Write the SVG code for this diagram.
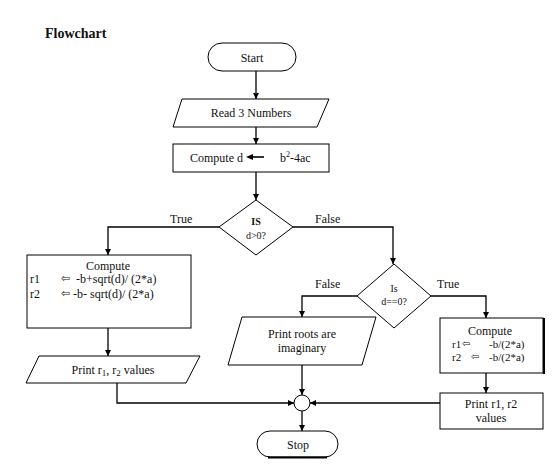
<svg xmlns="http://www.w3.org/2000/svg" width="556" height="469" viewBox="0 0 556 469" font-family="'Liberation Serif','Times New Roman',serif">
<defs>
<marker id="ah" markerWidth="8" markerHeight="8" refX="6" refY="3" orient="auto" markerUnits="userSpaceOnUse">
<path d="M0,0 L6,3 L0,6 Z" fill="#000"/>
</marker>
<style>
text{font-family:"Liberation Serif","Times New Roman",serif;font-size:12px;fill:#111}
.c{text-anchor:middle}
.s{fill:#fff;stroke:#000;stroke-width:1}
.ln{fill:none;stroke:#000;stroke-width:1.3}
.ar{font-family:"DejaVu Sans",sans-serif;font-size:11px}
</style>
</defs>
<rect width="556" height="469" fill="#fff"/>
<text x="45" y="38" style="font-weight:bold;font-size:14px">Flowchart</text>

<g id="connectors">
<path class="ln" d="M256,71 V99" marker-end="url(#ah)"/>
<path class="ln" d="M256,127 V144" marker-end="url(#ah)"/>
<path class="ln" d="M256,172 V200" marker-end="url(#ah)"/>
<path class="ln" d="M219,227 H108 V255" marker-end="url(#ah)"/>
<path class="ln" d="M293,227 H393 V264" marker-end="url(#ah)"/>
<path class="ln" d="M108,328 V356" marker-end="url(#ah)"/>
<path class="ln" d="M357,296 H302 V317" marker-end="url(#ah)"/>
<path class="ln" d="M431,296 H486 V318" marker-end="url(#ah)"/>
<path class="ln" d="M486,373 V393" marker-end="url(#ah)"/>
<path class="ln" d="M117,383 V403 H294" marker-end="url(#ah)"/>
<path class="ln" d="M302,365 V395" marker-end="url(#ah)"/>
<path class="ln" d="M440,403 H310" marker-end="url(#ah)"/>
<path class="ln" d="M302,411 V431" marker-end="url(#ah)"/>
<text x="170" y="223">True</text>
<text x="315" y="223">False</text>
<text x="315" y="288">False</text>
<text x="437" y="288">True</text>
</g>

<g id="start">
<rect class="s" x="208" y="43" width="88" height="28" rx="14"/>
<text class="c" x="252" y="62">Start</text>
</g>

<g id="read">
<polygon class="s" points="182,99 329,99 317,127 173,127"/>
<text class="c" x="251" y="117">Read 3 Numbers</text>
</g>

<g id="computeD">
<rect class="s" x="173" y="144" width="156" height="28"/>
<text x="190" y="162">Compute d</text>
<path d="M264,157 H252" stroke="#000" stroke-width="1.6"/>
<path d="M246,157 L253,154 L253,160 Z" fill="#000"/>
<text x="280" y="162">b<tspan dy="-5" style="font-size:8px">2</tspan><tspan dy="5">-4ac</tspan></text>
</g>

<g id="decision1">
<polygon class="s" points="256,200 293,227 256,255 219,227"/>
<text class="c" x="256" y="225" style="font-weight:bold;font-size:10px">IS</text>
<text class="c" x="256" y="239" style="font-size:10px">d&gt;0?</text>
</g>

<g id="computeReal">
<rect class="s" x="27" y="255" width="164" height="73"/>
<text class="c" x="108" y="270">Compute</text>
<text x="30" y="283">r1</text>
<text class="ar" x="61" y="282">⇦</text>
<text x="76" y="283">-b+sqrt(d)/ (2*a)</text>
<text x="30" y="298">r2</text>
<text class="ar" x="61" y="297">⇦</text>
<text x="73" y="298">-b- sqrt(d)/ (2*a)</text>
</g>

<g id="printReal">
<polygon class="s" points="39,356 200,356 186,383 26,383"/>
<text class="c" x="113" y="374">Print r<tspan dy="2" style="font-size:9px">1</tspan><tspan dy="-2">, r</tspan><tspan dy="2" style="font-size:9px">2</tspan><tspan dy="-2"> values</tspan></text>
</g>

<g id="decision2">
<polygon class="s" points="394,264 431,296 394,328 357,296"/>
<text class="c" x="394" y="292" style="font-size:10px">Is</text>
<text class="c" x="394" y="305" style="font-size:10px">d==0?</text>
</g>

<g id="printImag">
<polygon class="s" points="242,317 376,317 362,365 228,365"/>
<text class="c" x="302" y="338">Print roots are</text>
<text class="c" x="302" y="352">imaginary</text>
</g>

<g id="computeEqual">
<rect class="s" x="440" y="318" width="103" height="55"/>
<line x1="544" y1="318" x2="544" y2="374" stroke="#000" stroke-width="2"/>
<text class="c" x="490" y="335">Compute</text>
<text x="452" y="348" style="font-size:11px">r1</text>
<text class="ar" x="462" y="347" style="font-size:10px">⇦</text>
<text x="489" y="348" style="font-size:11px">-b/(2*a)</text>
<text x="452" y="361" style="font-size:11px">r2</text>
<text class="ar" x="471" y="360" style="font-size:10px">⇦</text>
<text x="489" y="361" style="font-size:11px">-b/(2*a)</text>
</g>

<g id="printEqual">
<rect class="s" x="440" y="393" width="103" height="36"/>
<text class="c" x="491" y="408">Print r1, r2</text>
<text class="c" x="491" y="422">values</text>
</g>

<g id="join">
<circle class="s" cx="302" cy="403" r="8"/>
</g>

<g id="stop">
<rect class="s" x="257" y="431" width="81" height="26" rx="13"/>
<line x1="268" y1="457.5" x2="327" y2="457.5" stroke="#000" stroke-width="2"/>
<text class="c" x="298" y="449">Stop</text>
</g>
</svg>
